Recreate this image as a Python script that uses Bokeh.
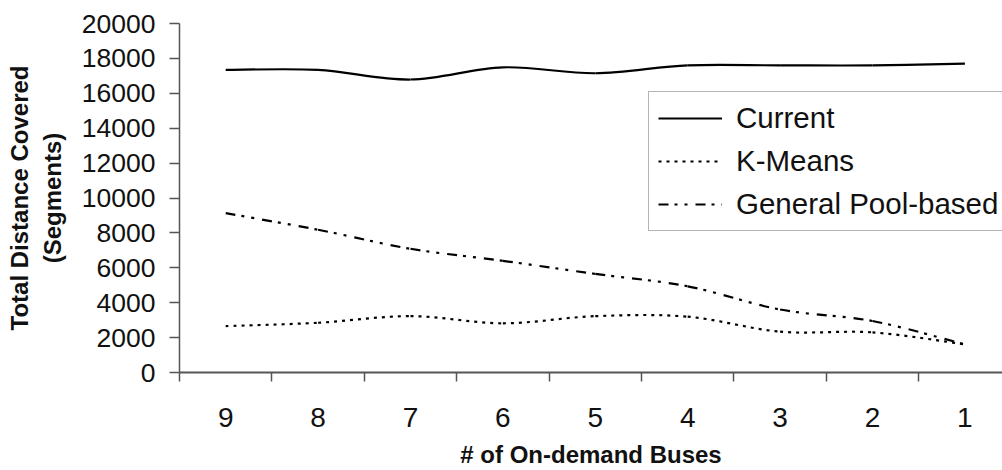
from bokeh.plotting import figure
from bokeh.models import Range1d, FixedTicker, Legend, LegendItem, ColumnDataSource
from bokeh.embed import file_html
from bokeh.resources import INLINE

# ---- data ----
categories = ["9", "8", "7", "6", "5", "4", "3", "2", "1"]
current = [17340, 17340, 16790, 17490, 17150, 17600, 17600, 17600, 17700]
kmeans = [2660, 2850, 3230, 2820, 3230, 3200, 2340, 2300, 1610]
general = [9130, 8180, 7090, 6400, 5650, 4940, 3610, 2950, 1610]
y_ticks = [0, 2000, 4000, 6000, 8000, 10000, 12000, 14000, 16000, 18000, 20000]

xs = list(range(len(categories)))


def smooth_segments(ys):
    """Cubic Bezier segments through the data points (Excel-like smoothing)."""
    n = len(ys)
    d = dict(x0=[], y0=[], x1=[], y1=[], cx0=[], cy0=[], cx1=[], cy1=[])
    for i in range(n - 1):
        a = max(i - 1, 0)
        b = min(i + 2, n - 1)
        d["x0"].append(xs[i]); d["y0"].append(ys[i])
        d["x1"].append(xs[i + 1]); d["y1"].append(ys[i + 1])
        d["cx0"].append(xs[i] + (xs[i + 1] - xs[a]) / 6.0)
        d["cy0"].append(ys[i] + (ys[i + 1] - ys[a]) / 6.0)
        d["cx1"].append(xs[i + 1] - (xs[b] - xs[i]) / 6.0)
        d["cy1"].append(ys[i + 1] - (ys[b] - ys[i]) / 6.0)
    return ColumnDataSource(d)


W, H = 1002, 470
LEFT, TOP, BOTTOM = 179, 23, 97
CAT_PX = 92.4

p = figure(width=W, height=H, output_backend="svg", toolbar_location=None,
           x_range=Range1d(-0.5, -0.5 + (W - LEFT) / CAT_PX),
           y_range=Range1d(0, 20000),
           min_border_left=LEFT, min_border_right=0,
           min_border_top=TOP, min_border_bottom=BOTTOM)
p.outline_line_color = None
p.grid.visible = False
p.background_fill_color = "white"
p.border_fill_color = "white"

FONT = "Liberation Sans"
AXIS_COLOR = "#555555"

# x axis
xa = p.xaxis[0]
xa.ticker = FixedTicker(ticks=xs, minor_ticks=[x - 0.5 for x in xs] + [xs[-1] + 0.5])
xa.major_label_overrides = {x: c for x, c in zip(xs, categories)}
xa.major_tick_line_color = None
xa.major_tick_out = 0
xa.major_tick_in = 0
xa.minor_tick_line_color = AXIS_COLOR
xa.minor_tick_line_width = 1.5
xa.minor_tick_out = 9
xa.minor_tick_in = 0
xa.axis_line_color = AXIS_COLOR
xa.axis_line_width = 2
xa.major_label_text_font = FONT
xa.major_label_text_font_size = "28px"
xa.major_label_text_color = "#111111"
xa.major_label_standoff = 26
xa.axis_label = "# of On-demand Buses"
xa.axis_label_text_font = FONT
xa.axis_label_text_font_style = "bold"
xa.axis_label_text_font_size = "24px"
xa.axis_label_text_color = "#111111"
xa.axis_label_standoff = 11

# y axis
ya = p.yaxis[0]
ya.ticker = FixedTicker(ticks=y_ticks)
ya.minor_tick_line_color = None
ya.major_tick_out = 10
ya.major_tick_in = 0
ya.major_tick_line_color = AXIS_COLOR
ya.major_tick_line_width = 1.5
ya.axis_line_color = AXIS_COLOR
ya.axis_line_width = 1.5
ya.major_label_text_font = FONT
ya.major_label_text_font_size = "26.5px"
ya.major_label_text_color = "#111111"
ya.major_label_standoff = 14
ya.axis_label = "Total Distance Covered\n(Segments)"
ya.axis_label_text_font = FONT
ya.axis_label_text_font_style = "bold"
ya.axis_label_text_font_size = "24px"
ya.axis_label_text_color = "#111111"
ya.axis_label_standoff = 13

# series (smoothed lines)
r_cur = p.bezier(x0="x0", y0="y0", x1="x1", y1="y1", cx0="cx0", cy0="cy0",
                 cx1="cx1", cy1="cy1", source=smooth_segments(current),
                 line_color="black", line_width=2.2)
r_km = p.bezier(x0="x0", y0="y0", x1="x1", y1="y1", cx0="cx0", cy0="cy0",
                cx1="cx1", cy1="cy1", source=smooth_segments(kmeans),
                line_color="black", line_width=2.2, line_dash="3 5")
r_gp = p.bezier(x0="x0", y0="y0", x1="x1", y1="y1", cx0="cx0", cy0="cy0",
                cx1="cx1", cy1="cy1", source=smooth_segments(general),
                line_color="black", line_width=2.2, line_dash="10 6 3 7 3 8")

legend = Legend(items=[LegendItem(label="Current", renderers=[r_cur]),
                       LegendItem(label="K-Means", renderers=[r_km]),
                       LegendItem(label="General Pool-based", renderers=[r_gp])],
                location=(469, 141))
legend.border_line_color = "#6a6a6a"
legend.border_line_width = 1.5
legend.background_fill_color = "white"
legend.background_fill_alpha = 1.0
legend.label_text_font = FONT
legend.label_text_font_size = "29.5px"
legend.label_text_color = "#111111"
legend.glyph_width = 64
legend.glyph_height = 34
legend.label_height = 34
legend.label_standoff = 14
legend.label_width = 300
legend.spacing = 9
legend.padding = 9
legend.margin = 0
p.add_layout(legend)

open("out.html", "w").write(file_html(p, INLINE))
